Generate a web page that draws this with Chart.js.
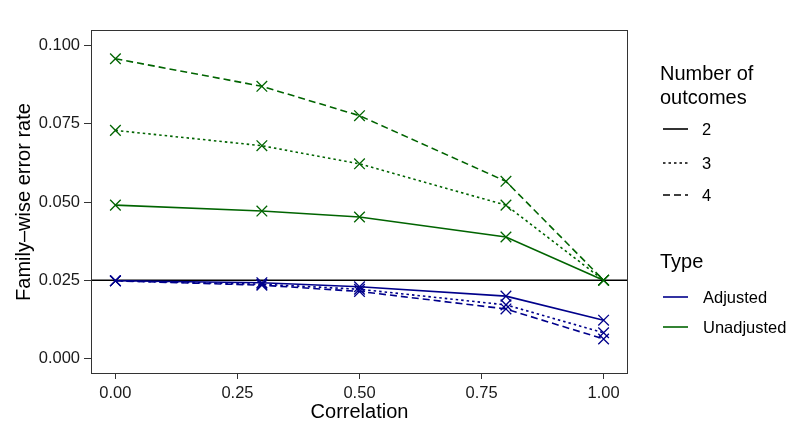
<!DOCTYPE html>
<html>
<head>
<meta charset="utf-8">
<script src="https://cdn.jsdelivr.net/npm/chart.js@4"></script>
<style>
  html, body { margin: 0; padding: 0; background: #fff; }
  #wrap { position: relative; width: 800px; height: 434px; font-family: "Liberation Sans", Arial, sans-serif; }
  #c { position: absolute; left: 0; top: 0; }
  .lg { position: absolute; color: #000; white-space: nowrap; }
  .lt { font-size: 20px; line-height: 24px; }
  .li { font-size: 16.5px; line-height: 18px; }
  .key { position: absolute; left: 663px; width: 26px; height: 6px; }
</style>
</head>
<body>
<div id="wrap">
  <canvas id="c" width="800" height="434"></canvas>
  <div class="lg lt" style="left:660px; top:61px;">Number of<br>outcomes</div>
  <svg class="key" style="top:126px;"><line x1="0" y1="3" x2="25" y2="3" stroke="#000" stroke-width="1.6"/></svg>
  <div class="lg li" style="left:702px; top:120px;">2</div>
  <svg class="key" style="top:160px;"><line x1="0" y1="3" x2="25" y2="3" stroke="#000" stroke-width="1.6" stroke-dasharray="2.5 3"/></svg>
  <div class="lg li" style="left:702px; top:154px;">3</div>
  <svg class="key" style="top:192px;"><line x1="0" y1="3" x2="25" y2="3" stroke="#000" stroke-width="1.6" stroke-dasharray="7 4"/></svg>
  <div class="lg li" style="left:702px; top:186px;">4</div>
  <div class="lg lt" style="left:660px; top:249px;">Type</div>
  <svg class="key" style="top:294px;"><line x1="0" y1="3" x2="25" y2="3" stroke="#00008B" stroke-width="1.6"/></svg>
  <div class="lg li" style="left:703px; top:288px;">Adjusted</div>
  <svg class="key" style="top:324px;"><line x1="0" y1="3" x2="25" y2="3" stroke="#006400" stroke-width="1.6"/></svg>
  <div class="lg li" style="left:703px; top:318px;">Unadjusted</div>
</div>
<script>
// ---- data ----
const correlation = [0, 0.3, 0.5, 0.8, 1.0];
const xTicks = [0, 0.25, 0.5, 0.75, 1.0];
const yTicks = [0, 0.025, 0.05, 0.075, 0.1];
const alphaLevel = 0.025;

const unadj2 = [0.0490, 0.0471, 0.0452, 0.0388, 0.0250];
const unadj3 = [0.0729, 0.0680, 0.0622, 0.0490, 0.0250];
const unadj4 = [0.0958, 0.0870, 0.0776, 0.0566, 0.0250];
const adj2   = [0.0248, 0.0242, 0.0229, 0.0199, 0.0122];
const adj3   = [0.0248, 0.0237, 0.0221, 0.0171, 0.0082];
const adj4   = [0.0248, 0.0234, 0.0214, 0.0158, 0.0062];

const BLUE = '#00008B', GREEN = '#006400';
const DOT = [2.5, 3], DASH = [7, 4];

function pts(vals) { return correlation.map((x, i) => ({ x: x, y: vals[i] })); }
function series(label, vals, color, dash) {
  return {
    label: label, data: pts(vals), borderColor: color, backgroundColor: color,
    borderWidth: 1.6, borderDash: dash, pointStyle: 'crossRot', pointRadius: 7.5,
    pointBorderWidth: 1.3, pointBorderColor: color, showLine: true, tension: 0
  };
}

const X_MIN = -0.05, X_MAX = 1.05, Y_MIN = -0.005, Y_MAX = 0.105;

const borderPlugin = {
  id: 'panelBorder',
  afterDraw(chart) {
    const a = chart.chartArea, ctx = chart.ctx;
    ctx.save();
    ctx.strokeStyle = '#333';
    ctx.lineWidth = 1;
    ctx.strokeRect(Math.round(a.left) + 0.5, Math.round(a.top) + 0.5,
                   Math.round(a.right - a.left) - 1, Math.round(a.bottom - a.top) - 1);
    ctx.restore();
  }
};

const datasets = [
  { label: 'ref', data: [{ x: X_MIN, y: alphaLevel }, { x: X_MAX, y: alphaLevel }],
    borderColor: '#000', borderWidth: 1.6, pointRadius: 0, showLine: true, order: 10 },
  series('Adjusted 2', adj2, BLUE, []),
  series('Adjusted 3', adj3, BLUE, DOT),
  series('Adjusted 4', adj4, BLUE, DASH),
  series('Unadjusted 2', unadj2, GREEN, []),
  series('Unadjusted 3', unadj3, GREEN, DOT),
  series('Unadjusted 4', unadj4, GREEN, DASH)
];

new Chart(document.getElementById('c'), {
  type: 'scatter',
  data: { datasets: datasets },
  plugins: [borderPlugin],
  options: {
    responsive: false, animation: false, devicePixelRatio: 1,
    layout: { padding: { left: 0, right: 172, top: 30, bottom: 0 } },
    plugins: { legend: { display: false }, tooltip: { enabled: false } },
    scales: {
      x: {
        type: 'linear', min: X_MIN, max: X_MAX,
        afterBuildTicks: s => { s.ticks = xTicks.map(v => ({ value: v })); },
        afterFit: s => { s.height = 60; },
        ticks: { callback: v => Number(v).toFixed(2), color: '#1a1a1a', font: { family: 'Liberation Sans', size: 16.5 }, padding: 5, maxRotation: 0 },
        grid: { drawOnChartArea: false, drawTicks: true, tickLength: 5, color: '#333' },
        border: { display: false },
        title: { display: true, text: 'Correlation', color: '#000', font: { family: 'Liberation Sans', size: 20 }, padding: { top: 0, bottom: 10 } }
      },
      y: {
        type: 'linear', min: Y_MIN, max: Y_MAX,
        afterBuildTicks: s => { s.ticks = yTicks.map(v => ({ value: v })); },
        afterFit: s => { s.width = 91; },
        ticks: { callback: v => Number(v).toFixed(3), color: '#1a1a1a', font: { family: 'Liberation Sans', size: 16.5 }, padding: 4 },
        grid: { drawOnChartArea: false, drawTicks: true, tickLength: 7, color: '#333' },
        border: { display: false },
        title: { display: true, text: 'Family\u2013wise error rate', color: '#000', font: { family: 'Liberation Sans', size: 20 }, padding: { top: 12, bottom: 0 } }
      }
    }
  }
});
</script>
</body>
</html>
